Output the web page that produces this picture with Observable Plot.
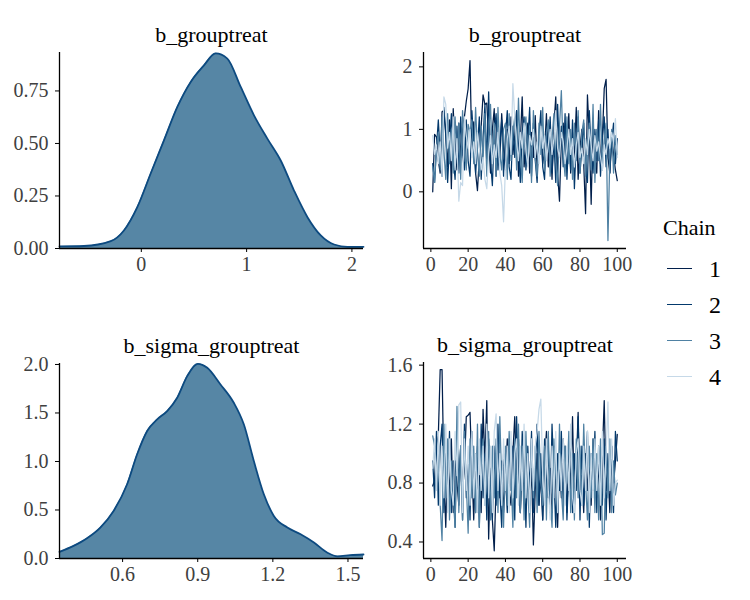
<!DOCTYPE html>
<html><head><meta charset="utf-8">
<script src="https://cdn.jsdelivr.net/npm/d3@7"></script>
<script src="https://cdn.jsdelivr.net/npm/@observablehq/plot@0.6"></script>
<style>
body{margin:0;background:#fff;}
#wrap{position:relative;width:750px;height:600px;font-family:"Liberation Serif",serif;overflow:hidden;}
#wrap svg, #wrap svg text{font-family:"Liberation Serif",serif !important;}
.p{position:absolute;}
.leg{position:absolute;color:#000;}
.sw{position:absolute;height:0;border-top:1.4px solid;}
</style></head><body><div id="wrap"></div>
<script>
// ---------- data ----------
const chainNames = ["1","2","3","4"];
const chainColors = ["#011f4b","#03396c","#4f81a3","#c6d9e8"];

// density of b_grouptreat
const densGroupX = [-0.777,-0.545,-0.29,-0.165,-0.038,0.088,0.215,0.342,0.469,0.595,0.706,0.817,0.944,1.07,1.197,1.324,1.45,1.578,1.704,1.831,1.958,2.11];
const densGroupY = [0.010,0.012,0.035,0.086,0.197,0.356,0.515,0.674,0.793,0.872,0.929,0.904,0.769,0.634,0.523,0.419,0.276,0.149,0.062,0.019,0.008,0.008];

// density of b_sigma_grouptreat
const densSigmaX = [0.348,0.404,0.458,0.511,0.564,0.618,0.658,0.698,0.738,0.778,0.818,0.858,0.9,0.938,0.991,1.044,1.084,1.124,1.164,1.204,1.258,1.311,1.364,1.418,1.458,1.51,1.562];
const densSigmaY = [0.069,0.13,0.209,0.319,0.49,0.765,1.074,1.314,1.434,1.52,1.657,1.88,2.007,1.966,1.794,1.605,1.383,1.005,0.662,0.439,0.319,0.25,0.165,0.06,0.022,0.034,0.041];

// trace draws b_grouptreat, chains 1..4 (iterations 1..100)
const groupChain1 = [
0.00,0.92,0.88,0.50,0.30,1.28,1.30,0.95,0.40,1.15,
0.05,1.33,0.70,0.35,1.10,0.55,1.05,1.20,1.45,1.65,
2.10,0.62,1.12,0.30,0.02,0.55,1.05,1.55,1.40,1.42,
0.85,0.30,1.00,1.33,0.25,0.95,0.55,1.25,0.70,0.35,
1.00,0.45,1.20,0.60,0.90,1.30,0.25,0.80,1.52,0.40,
0.75,1.10,0.30,0.95,0.55,1.22,0.35,0.85,1.05,0.45,
0.65,1.25,0.40,0.90,0.20,1.05,1.52,0.30,-0.15,0.85,
1.10,0.40,0.75,1.25,0.30,0.95,0.55,1.35,0.20,0.70,
1.00,0.45,-0.35,1.55,0.90,-0.20,1.10,0.60,0.30,1.30,
0.45,0.85,1.65,1.80,0.55,0.30,0.90,0.60,0.35,0.18];
const groupChain2 = [
0.45,0.15,0.70,1.15,0.60,0.25,1.35,0.90,0.15,0.75,
1.25,0.55,0.20,1.05,0.30,1.20,0.60,0.35,1.15,0.50,
0.25,1.30,0.80,0.30,0.70,1.20,0.20,0.85,1.40,0.45,
1.60,0.50,0.10,0.95,1.25,0.35,0.75,1.15,0.25,0.90,
1.30,0.40,0.20,1.05,0.55,1.30,0.70,0.15,0.95,1.20,
0.35,0.80,1.35,0.25,1.10,0.50,0.15,0.90,1.30,0.40,
0.20,1.00,0.65,1.20,0.30,0.85,0.15,1.40,0.55,1.05,
0.40,1.25,0.20,0.95,0.35,1.15,0.05,0.80,1.20,0.30,
0.70,1.10,0.35,0.15,1.30,0.65,0.30,1.00,0.50,1.15,
0.25,0.85,1.20,0.40,1.00,0.30,0.80,1.10,0.45,0.85];
const groupChain3 = [
0.40,0.15,0.75,0.95,0.35,1.20,0.65,0.20,1.25,0.45,
1.00,0.30,1.20,0.55,1.10,0.20,1.30,0.70,0.35,1.08,
0.95,1.15,0.45,1.35,0.65,0.25,1.05,0.50,1.25,0.25,
0.90,1.40,0.45,1.10,0.25,1.35,0.60,0.35,1.00,1.10,
0.20,1.25,0.50,0.95,1.20,0.35,1.50,0.60,0.15,1.00,
1.20,0.45,1.05,0.15,1.30,0.55,0.25,1.10,0.60,1.35,
0.35,0.95,1.15,0.25,0.85,1.25,0.50,0.10,1.05,1.62,
0.60,0.25,1.20,0.45,1.00,0.20,1.10,0.50,1.30,0.30,
0.95,1.15,0.25,0.80,1.10,0.35,1.40,0.15,1.00,0.50,
1.40,0.35,0.85,1.10,-0.78,0.55,1.00,0.30,0.90,0.60];
const groupChain4 = [
0.90,0.60,0.75,0.45,0.80,0.25,1.52,1.40,0.70,0.95,
0.50,1.20,0.35,0.85,-0.15,0.15,0.10,1.20,0.90,0.70,
1.00,0.55,0.80,0.45,0.95,0.70,0.35,0.55,0.20,0.05,
0.60,0.90,0.45,0.75,0.55,0.95,0.30,0.10,-0.48,0.40,
0.85,1.05,0.60,1.73,1.20,0.80,0.50,0.95,0.70,1.10,
0.65,0.40,0.90,0.75,1.00,0.55,0.80,0.45,1.05,0.70,
0.90,0.50,0.75,1.00,0.60,0.85,1.30,0.70,0.55,0.95,
0.80,0.45,0.70,1.00,0.60,0.85,0.40,0.75,0.95,0.55,
0.70,0.45,0.85,0.60,1.00,0.75,0.50,0.90,0.65,0.80,
0.55,0.35,0.75,0.60,0.85,0.70,0.95,0.80,1.17,0.55];

// trace draws b_sigma_grouptreat, chains 1..4
const sigmaChain1 = [
0.78,0.82,1.05,1.12,1.57,1.57,0.85,0.50,1.00,0.70,
1.10,0.60,0.95,0.80,0.65,1.05,0.75,0.90,1.25,1.26,
1.28,0.90,0.55,1.00,0.70,0.85,0.60,1.30,0.95,1.36,
0.42,0.90,0.55,0.34,0.80,1.05,0.70,0.95,0.60,0.85,
1.10,0.75,0.65,1.00,1.25,0.85,1.10,0.60,0.95,0.70,
1.05,0.80,0.65,0.90,0.38,0.75,1.00,0.65,0.85,0.55,
0.95,1.15,0.70,0.90,0.60,1.05,0.80,0.50,0.95,0.70,
1.10,0.85,0.60,1.00,0.75,1.25,0.65,0.90,1.28,0.70,
0.85,0.60,1.00,0.75,0.95,0.65,1.10,0.80,0.70,0.95,
0.55,1.00,1.36,0.75,0.90,0.60,1.05,0.80,0.95,1.13];
const sigmaChain2 = [
0.95,0.70,1.15,0.65,1.05,1.20,0.60,1.00,0.75,1.15,
0.60,0.95,0.50,1.10,0.80,1.05,0.55,1.20,0.70,0.95,
0.55,1.15,0.80,0.60,1.05,0.50,1.20,0.70,1.00,0.55,
1.10,0.80,0.55,1.05,0.65,1.20,0.75,0.50,1.00,0.85,
0.60,1.10,0.75,1.05,0.55,1.25,0.80,0.60,1.15,0.90,
0.50,1.05,0.75,1.15,0.60,0.90,1.20,0.65,1.00,0.55,
1.10,0.70,1.05,0.60,1.20,0.85,0.50,1.00,0.75,1.15,
0.65,1.05,0.55,0.90,1.10,0.60,1.00,0.75,1.25,0.55,
1.05,0.65,0.90,1.15,0.50,1.00,0.75,1.15,0.60,1.05,
0.80,0.65,1.10,0.55,1.00,0.75,1.05,0.60,1.15,0.95];
const sigmaChain3 = [
1.12,1.05,0.75,1.00,0.65,0.41,1.20,0.70,1.10,0.55,
0.95,0.70,0.50,1.32,0.60,1.05,0.55,1.15,0.80,0.46,
1.10,0.70,1.05,0.60,1.20,0.50,0.95,1.10,0.65,0.90,
1.15,0.55,1.05,0.70,1.10,0.60,1.25,0.80,0.50,1.05,
0.65,1.15,0.85,0.50,1.10,0.70,1.20,0.60,1.05,0.55,
1.15,0.75,0.50,1.10,0.70,1.05,0.60,1.15,0.80,0.65,
1.05,0.55,1.15,0.70,0.50,1.10,0.85,0.60,1.20,0.75,
0.55,1.05,0.80,1.15,0.60,1.00,0.55,1.10,0.70,1.05,
0.65,1.20,0.80,0.55,1.05,0.70,1.10,0.60,1.00,0.55,
1.10,0.45,0.46,1.05,0.70,1.10,0.60,0.95,0.72,0.80];
const sigmaChain4 = [
0.90,1.10,0.75,1.15,0.65,1.05,0.70,1.20,0.60,1.10,
0.75,0.65,1.15,0.85,1.33,1.35,0.60,1.10,0.75,1.05,
0.65,1.15,0.70,1.00,0.60,1.10,0.75,1.05,0.65,1.20,
0.70,1.05,0.60,1.15,1.27,0.75,1.00,0.65,1.10,0.75,
1.05,0.60,1.15,0.70,1.00,1.10,0.65,1.05,0.75,1.20,
0.70,1.00,0.60,1.10,0.75,1.05,1.15,1.30,1.37,0.85,
0.65,1.10,0.75,0.55,1.05,0.70,1.15,0.60,1.00,0.75,
1.10,0.65,1.05,0.75,1.20,0.70,0.60,1.00,1.10,0.75,
0.65,1.05,0.75,1.15,0.60,1.00,0.70,1.10,0.75,1.05,
0.65,1.15,0.70,1.00,1.35,0.75,1.10,0.65,0.80,0.82];

const titles = ["b_grouptreat","b_sigma_grouptreat"];
const traceXTicks = [0,20,40,60,80,100];
const groupDensXTicks = [0,1,2];
const groupDensYTicks = [0,0.25,0.5,0.75];
const sigmaDensXTicks = [0.6,0.9,1.2,1.5];
const sigmaDensYTicks = [0,0.5,1.0,1.5,2.0];
const groupTraceYTicks = [0,1,2];
const sigmaTraceYTicks = [0.4,0.8,1.2,1.6];

// ---------- drawing ----------
const wrap = document.getElementById("wrap");
const FONT = "Liberation Serif";
const TICKFS = 20, TITLEFS = 22;
const AXISCOL = "#404040";

function axes(xTicks, yTicks, xFmt, yFmt, xDom, yDom, title) {
  return [
    Plot.ruleX([xDom[0]], {stroke: "black", strokeWidth: 1.3}),
    Plot.ruleY([yDom[0]], {stroke: "black", strokeWidth: 1.3}),
    Plot.axisX({ticks: xTicks, tickFormat: xFmt, tickSize: 4, tickPadding: 4, fill: AXISCOL, stroke: "black", label: null, fontSize: TICKFS}),
    Plot.axisY({ticks: yTicks, tickFormat: yFmt, tickSize: 4, tickPadding: 7, fill: AXISCOL, stroke: "black", label: null, fontSize: TICKFS}),
    Plot.text([title], {text: d => d, frameAnchor: "top", dy: -11, lineAnchor: "bottom", fill: "black", fontSize: TITLEFS})
  ];
}

function place(svg, left, top) {
  svg.classList.add("p");
  svg.style.left = left + "px";
  svg.style.top = top + "px";
  wrap.appendChild(svg);
}

function densPanel(xs, ys, cfg) {
  const rows = xs.map((x, i) => ({x, y: ys[i]}));
  const svg = Plot.plot({
    width: cfg.width, height: cfg.height,
    marginLeft: cfg.mL, marginRight: cfg.mR, marginTop: cfg.mT, marginBottom: cfg.mB,
    style: {fontFamily: FONT, background: "transparent", overflow: "visible"},
    x: {domain: cfg.xDom},
    y: {domain: cfg.yDom},
    marks: [
      Plot.areaY(rows, {x: "x", y: "y", fill: "#5686a5", curve: "monotone-x"}),
      Plot.line(rows, {x: "x", y: "y", stroke: "#0d4a80", strokeWidth: 1.8, curve: "monotone-x"}),
      ...axes(cfg.xTicks, cfg.yTicks, cfg.xFmt, cfg.yFmt, cfg.xDom, cfg.yDom, cfg.title)
    ]
  });
  place(svg, cfg.left, cfg.top);
}

function tracePanel(chains, cfg) {
  const rows = [];
  chains.forEach((vals, c) => vals.forEach((v, i) => rows.push({iter: i + 1, value: v, chain: chainNames[c]})));
  const xDom = [-3.95, 104.95];
  const svg = Plot.plot({
    width: cfg.width, height: cfg.height,
    marginLeft: cfg.mL, marginRight: cfg.mR, marginTop: cfg.mT, marginBottom: cfg.mB,
    style: {fontFamily: FONT, background: "transparent", overflow: "visible"},
    x: {domain: xDom},
    y: {domain: cfg.yDom},
    color: {domain: chainNames, range: chainColors},
    marks: [
      Plot.line(rows, {x: "iter", y: "value", z: "chain", stroke: "chain", strokeWidth: 1.25}),
      ...axes(traceXTicks, cfg.yTicks, d => String(d), cfg.yFmt, xDom, cfg.yDom, cfg.title)
    ]
  });
  place(svg, cfg.left, cfg.top);
}

densPanel(densGroupX, densGroupY, {
  left: 0, top: 0, width: 370, height: 290, mL: 59, mR: 7, mT: 52, mB: 42,
  xDom: [-0.777, 2.11], yDom: [0, 0.933],
  xTicks: groupDensXTicks, yTicks: groupDensYTicks, xFmt: d => String(d), yFmt: d3.format(".2f"),
  title: titles[0]
});
tracePanel([groupChain1, groupChain2, groupChain3, groupChain4], {
  left: 375, top: 0, width: 260, height: 290, mL: 48, mR: 9, mT: 52, mB: 42,
  yDom: [-0.907, 2.23], yTicks: groupTraceYTicks, yFmt: d => String(d), title: titles[0]
});
densPanel(densSigmaX, densSigmaY, {
  left: 0, top: 300, width: 370, height: 300, mL: 59, mR: 7, mT: 63, mB: 42,
  xDom: [0.348, 1.562], yDom: [0, 2.01],
  xTicks: sigmaDensXTicks, yTicks: sigmaDensYTicks, xFmt: d3.format(".1f"), yFmt: d3.format(".1f"),
  title: titles[1]
});
tracePanel([sigmaChain1, sigmaChain2, sigmaChain3, sigmaChain4], {
  left: 375, top: 300, width: 260, height: 300, mL: 48, mR: 9, mT: 62, mB: 42,
  yDom: [0.288, 1.618], yTicks: sigmaTraceYTicks, yFmt: d3.format(".1f"), title: titles[1]
});

// legend
const legTitle = document.createElement("div");
legTitle.className = "leg";
legTitle.textContent = "Chain";
legTitle.style.cssText += "left:663px;top:215px;font-size:22px;";
wrap.appendChild(legTitle);
const legY = [268.5, 304.5, 340.5, 376.5];
chainNames.forEach((n, i) => {
  const sw = document.createElement("div");
  sw.className = "sw";
  sw.style.cssText += `left:667px;top:${legY[i] - 0.7}px;width:25px;border-color:${chainColors[i]};`;
  wrap.appendChild(sw);
  const t = document.createElement("div");
  t.className = "leg";
  t.textContent = n;
  t.style.cssText += `left:709px;top:${legY[i] - 14}px;font-size:24px;line-height:28px;`;
  wrap.appendChild(t);
});
</script>
</body></html>
